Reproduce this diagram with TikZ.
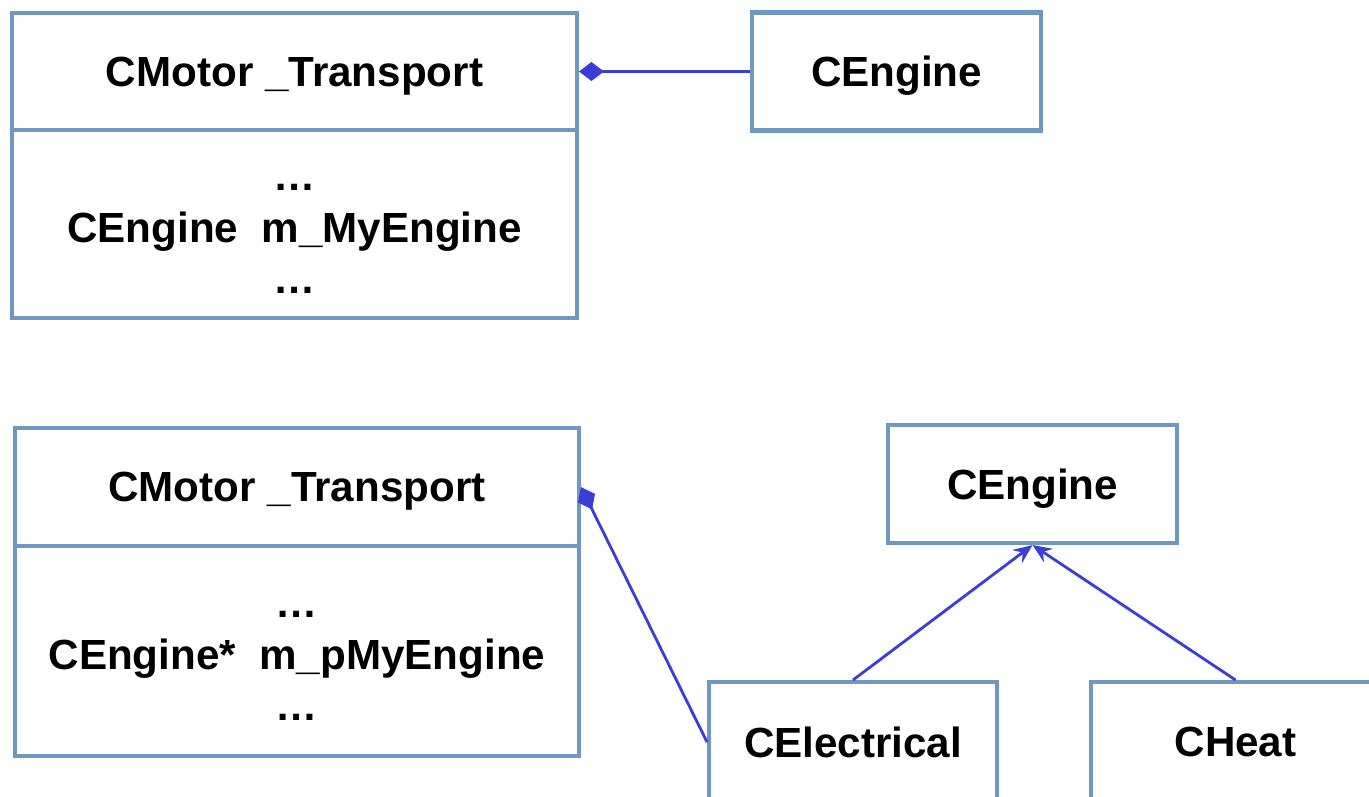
\documentclass[tikz,border=0pt]{standalone}
\usepackage{fontspec}
\setmainfont{Liberation Sans}
\usetikzlibrary{arrows.meta}
\definecolor{boxblue}{RGB}{112,151,192}
\definecolor{linkblue}{RGB}{60,60,216}

\begin{document}
\begin{tikzpicture}[x=0.02cm, y=-0.02cm,
  box/.style={draw=boxblue, line width=2.3pt, fill=white, inner sep=0pt,
    font=\bfseries\fontsize{24}{29.5}\selectfont},
  head/.style={box, text depth=0pt},
  link/.style={draw=linkblue, line width=1.6pt},
  owns/.style={link, {Diamond[length=0.5cm, width=0.38cm]}-},
  kindof/.style={link, -{Stealth[length=0.38cm, width=0.32cm, inset=0.13cm]}}]

% BOUNDS
\useasboundingbox (0,0) rectangle (1369,797);

% UPPER DIAGRAM
\node[head, minimum width=11.3cm, minimum height=2.34cm] (transA) at (294.5,71.5) {CMotor \_Transport};
\node[box, minimum width=11.3cm, minimum height=3.76cm, align=center] (transAbody) at (294.5,224)
  {\strut…\\CEngine\ \ m\_MyEngine\\…};
\node[head, minimum width=5.78cm, minimum height=2.36cm] (engA) at (896.5,71.5) {CEngine};

\draw[owns] (transA.east) -- (engA.west);

% LOWER DIAGRAM
\node[head, minimum width=11.28cm, minimum height=2.36cm] (transB) at (297,487) {CMotor \_Transport};
\node[box, minimum width=11.28cm, minimum height=4.2cm, align=center] (transBbody) at (297,651)
  {\strut…\\CEngine*\ \ m\_pMyEngine\\…};
\node[head, minimum width=5.78cm, minimum height=2.36cm] (engB) at (1032.5,484) {CEngine};
\node[head, minimum width=5.76cm, minimum height=2.4cm] (elec) at (853,742) {CElectrical};
\node[head, minimum width=5.78cm, minimum height=2.4cm] (heat) at (1235.5,742) {CHeat};

\draw[owns] (transB.east) -- (elec.west);
\draw[kindof] (elec.north) -- (engB.south);
\draw[kindof] (heat.north) -- (engB.south);

\end{tikzpicture}
\end{document}
